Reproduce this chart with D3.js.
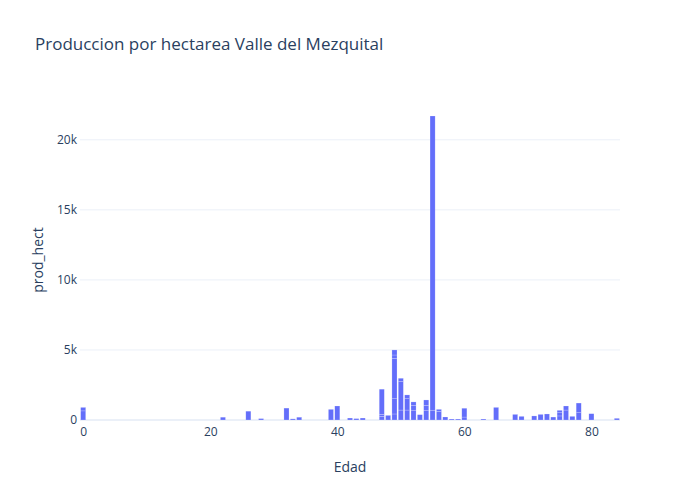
<!DOCTYPE html>
<html>
<head>
<meta charset="utf-8">
<script src="https://cdn.jsdelivr.net/npm/d3@7"></script>
<style>
  body { margin: 0; background: #fff; }
  text { font-family: "Open Sans", sans-serif; fill: #2a3f5f; }
</style>
</head>
<body>
<div id="chart"></div>
<script>
// data: each age has one or more stacked records (prod_hect)
const ages = [0, 22, 26, 28, 32, 33, 34, 39, 40, 42, 43, 44, 47, 48, 49, 50, 51, 52, 53, 54, 55,
  56, 57, 58, 59, 60, 63, 65, 68, 69, 71, 72, 73, 74, 75, 76, 77, 78, 80, 84];
const prodHect = [
  [650, 250], [200], [630], [100], [850], [80], [200], [760], [1000], [140], [100], [140],
  [250, 150, 1800], [330], [430, 1090, 2880, 240, 360], [710, 2030, 240], [710, 810, 270],
  [700, 350, 240], [380], [700, 350, 380], [700, 21000], [620, 140], [215], [70], [70],
  [210, 630], [70], [900], [400], [260], [290], [400], [430], [210], [290, 230, 170],
  [710, 290], [260], [520, 690], [450], [120]
];
const xTicks = [0, 20, 40, 60, 80];
const yTicks = [0, 5000, 10000, 15000, 20000];

const W = 700, H = 500;
const margin = { top: 100, right: 80, bottom: 80, left: 80 };
const width = W - margin.left - margin.right;
const height = H - margin.top - margin.bottom;

const svg = d3.select("#chart").append("svg")
  .attr("width", W)
  .attr("height", H);

const g = svg.append("g")
  .attr("transform", `translate(${margin.left},${margin.top})`);

// flatten into stacked segments
const segs = [];
ages.forEach((a, i) => {
  let base = 0;
  prodHect[i].forEach(v => {
    segs.push({ age: a, y0: base, y1: base + v });
    base += v;
  });
});
const maxTotal = d3.max(prodHect, d => d3.sum(d));

const x = d3.scaleLinear().domain([-0.5, 84.5]).range([0, width]);
const y = d3.scaleLinear().domain([0, maxTotal * 1.0526]).range([height, 0]);

// grid
g.selectAll("line.grid")
  .data(yTicks.slice(1))
  .enter().append("line")
  .attr("class", "grid")
  .attr("x1", 0).attr("x2", width)
  .attr("y1", d => y(d)).attr("y2", d => y(d))
  .attr("stroke", "#ebf0f8").attr("stroke-width", 1);

// zero line
g.append("line")
  .attr("x1", 0).attr("x2", width)
  .attr("y1", y(0)).attr("y2", y(0))
  .attr("stroke", "#ebf0f8").attr("stroke-width", 2);

// bars
const bw = (x(1) - x(0)) * 0.8;
g.selectAll("rect.bar")
  .data(segs)
  .enter().append("rect")
  .attr("class", "bar")
  .attr("x", d => x(d.age) - bw / 2)
  .attr("width", bw)
  .attr("y", d => y(d.y1))
  .attr("height", d => y(d.y0) - y(d.y1))
  .attr("fill", "#636efa")
  .attr("stroke", "#fff")
  .attr("stroke-width", 0.5)
  .attr("stroke-opacity", 0.4);

// axes
const xAxis = g.append("g")
  .attr("transform", `translate(0,${height})`)
  .call(d3.axisBottom(x).tickValues(xTicks).tickSize(0).tickPadding(7));
xAxis.select(".domain").remove();
xAxis.selectAll("text").style("font-size", "12px").style("fill", "#2a3f5f")
  .style("font-family", "Open Sans");

const yAxis = g.append("g")
  .call(d3.axisLeft(y).tickValues(yTicks).tickSize(0).tickPadding(3)
    .tickFormat(d => d === 0 ? "0" : d3.format("~s")(d)));
yAxis.select(".domain").remove();
yAxis.selectAll("text").style("font-size", "12px").style("fill", "#2a3f5f")
  .style("font-family", "Open Sans");

// labels
svg.append("text")
  .attr("x", 35).attr("y", 50)
  .style("font-size", "17px")
  .text("Produccion por hectarea Valle del Mezquital");

svg.append("text")
  .attr("x", margin.left + width / 2)
  .attr("y", 472)
  .attr("text-anchor", "middle")
  .style("font-size", "14px")
  .text("Edad");

svg.append("text")
  .attr("transform", `translate(43,${margin.top + height / 2}) rotate(-90)`)
  .attr("text-anchor", "middle")
  .style("font-size", "14px")
  .text("prod_hect");
</script>
</body>
</html>
